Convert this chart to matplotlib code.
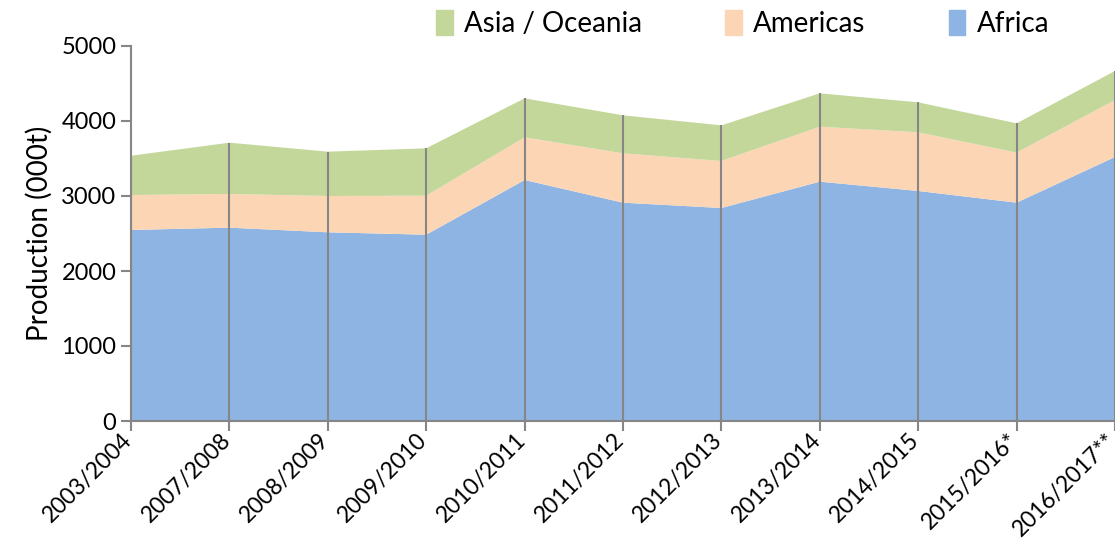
import numpy as np
import matplotlib.pyplot as plt
from matplotlib.patches import Patch

plt.rcParams['font.family'] = ['Lato', 'DejaVu Sans']

seasons = ['2003/2004', '2007/2008', '2008/2009', '2009/2010', '2010/2011',
           '2011/2012', '2012/2013', '2013/2014', '2014/2015', '2015/2016*',
           '2016/2017**']
africa = [2547, 2578, 2516, 2484, 3213, 2911, 2840, 3191, 3067, 2911, 3520]
americas = [466, 449, 484, 520, 569, 658, 627, 733, 782, 667, 760]
asia = [524, 684, 591, 632, 520, 507, 475, 445, 400, 391, 387]

c_africa = '#8EB4E3'
c_americas = '#FCD5B5'
c_asia = '#C4D79B'
grey = '#868686'

x = np.arange(len(seasons))
totals = np.array(africa) + np.array(americas) + np.array(asia)

fig = plt.figure(figsize=(11.15, 5.56), dpi=100)
ax = fig.add_axes([131/1115, 135/556, 1 - 131/1115, 375/556])

ax.stackplot(x, africa, americas, asia, colors=[c_africa, c_americas, c_asia])
ax.vlines(x, 0, totals, color=grey, linewidth=1.5, zorder=3)

ax.set_xlim(0, len(seasons) - 1)
ax.set_ylim(0, 5000)
ax.set_yticks(range(0, 5001, 1000))
ax.set_xticks(x)
ax.set_xticklabels([])
# x labels placed by hand so the last one is not cut at the right edge
for xi, lab in zip(x, seasons):
    ax.annotate(lab, xy=(xi, 0), xycoords=('data', 'axes fraction'),
                xytext=(-7, -6), textcoords='offset points', rotation=45,
                ha='right', va='top', rotation_mode='anchor', fontsize=16.5,
                annotation_clip=False)

for s in ['top', 'right']:
    ax.spines[s].set_visible(False)
for s in ['left', 'bottom']:
    ax.spines[s].set_color(grey)
    ax.spines[s].set_linewidth(1.5)
ax.tick_params(axis='both', colors=grey, labelcolor='black', labelsize=17,
               length=7, width=1.5)
ax.set_ylabel('Production (000t)', fontsize=20, labelpad=6)

handles = [Patch(color=c_asia), Patch(color=c_americas), Patch(color=c_africa)]
fig.legend(handles, ['Asia / Oceania', 'Americas', 'Africa'], ncol=3,
           loc='center', bbox_to_anchor=(0.666, 0.958), frameon=False,
           fontsize=20, handlelength=0.6, handleheight=1.0, handletextpad=0.4,
           columnspacing=3.0)

fig.savefig('out.png', dpi=100)
